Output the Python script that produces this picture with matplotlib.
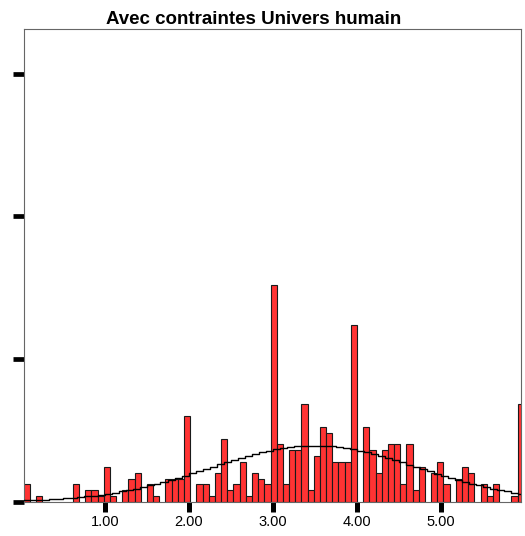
import numpy as np
import matplotlib
matplotlib.use("Agg")
import matplotlib.pyplot as plt

plt.rcParams['font.family'] = ['Liberation Sans', 'DejaVu Sans']

title = "Avec contraintes Univers humain"

# histogram bins: 81 equal-width classes
bin_lo, bin_hi, n_bins = 0.026, 5.993, 81

# frequency per class, left to right
counts = [3, 0, 1, 0, 0, 0, 0, 0, 3, 0,
          2, 2, 1, 6, 1, 0, 2, 4, 5, 0,
          3, 1, 0, 4, 4, 4, 15, 0, 3, 3,
          1, 5, 11, 2, 3, 7, 1, 5, 4, 3,
          38, 10, 3, 9, 9, 17, 2, 8, 13, 12,
          7, 7, 7, 31, 0, 13, 9, 5, 9, 10,
          10, 3, 10, 2, 6, 0, 5, 7, 3, 0,
          4, 6, 5, 0, 3, 1, 3, 0, 0, 1,
          17]

x_ticks = [1, 2, 3, 4, 5]
x_tick_labels = ["1.00", "2.00", "3.00", "4.00", "5.00"]
y_ticks = [0, 25, 50, 75]

edges = np.linspace(bin_lo, bin_hi, n_bins + 1)
bw = edges[1] - edges[0]
centers = edges[:-1] + bw / 2
counts = np.asarray(counts, dtype=float)

# normal curve fitted to the binned distribution
n_total = counts.sum()
mean = np.sum(counts * centers) / n_total
sd = np.sqrt(np.sum(counts * (centers - mean) ** 2) / (n_total - 1))

W, H = 525, 536
fig = plt.figure(figsize=(W / 100, H / 100), dpi=100)
ax = fig.add_axes([24 / W, 1 - 501.5 / H, (521 - 24) / W, (501.5 - 29) / H])

nz = counts > 0
ax.bar(edges[:-1][nz], counts[nz], width=bw, align='edge',
       color='#FF3333', edgecolor='#1a1a1a', linewidth=0.8, zorder=2)

xlim = (0.033, 5.96)
xs = np.linspace(xlim[0], xlim[1], 72)
pdf = np.exp(-0.5 * ((xs - mean) / sd) ** 2) / (sd * np.sqrt(2 * np.pi))
ax.step(xs, n_total * bw * pdf, where='mid', color='black', lw=1.0, zorder=3)

ax.set_xlim(*xlim)
ax.set_ylim(0, 82.8)

ax.set_xticks(x_ticks)
ax.set_xticklabels(x_tick_labels, fontsize=10.5)
ax.set_yticks(y_ticks)
ax.set_yticklabels([])
ax.tick_params(axis='x', length=7.2, width=3.6, color='black', pad=2.5)
ax.tick_params(axis='y', length=8, width=3.4, color='black')

for s in ax.spines.values():
    s.set_color('#666666')
    s.set_linewidth(0.8)

fig.text(253.5 / W, 1 - 23.5 / H, title, ha='center', va='baseline',
         fontsize=13.5, fontweight='bold')

fig.savefig("out.png", dpi=100)
